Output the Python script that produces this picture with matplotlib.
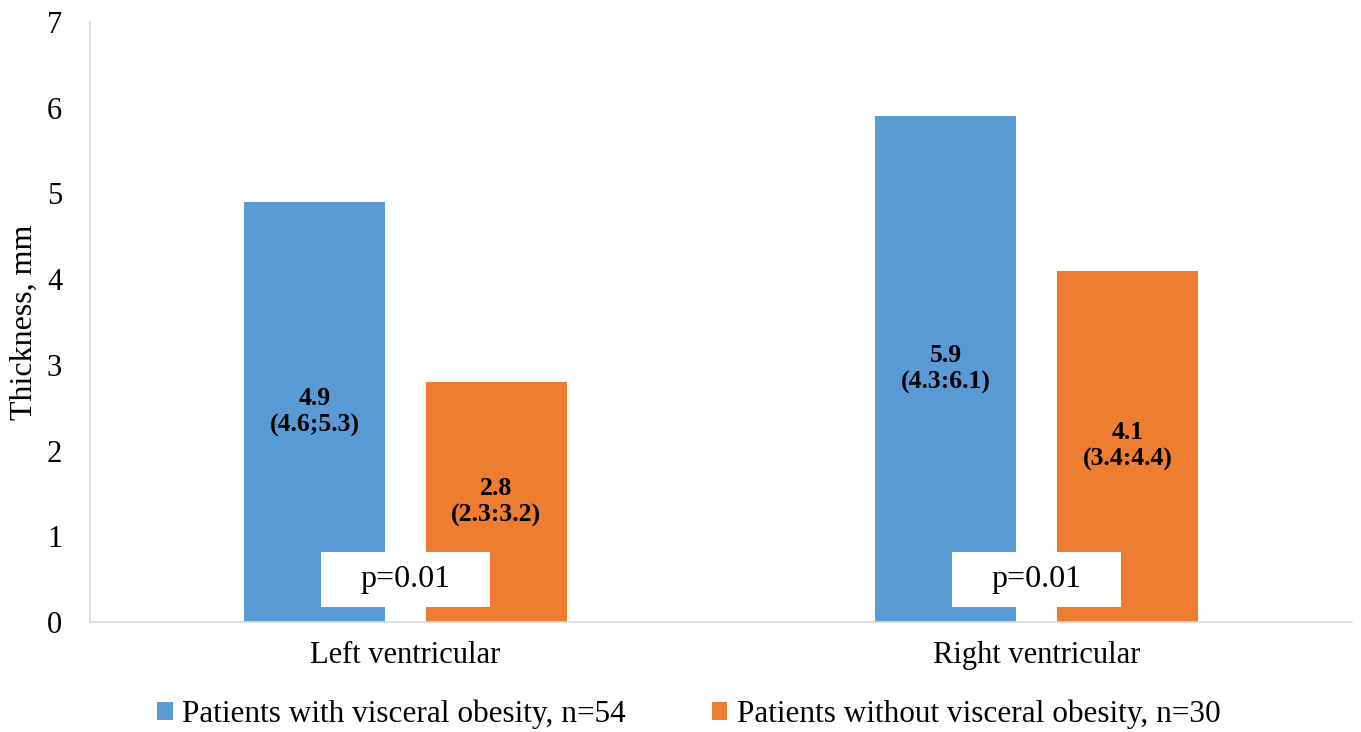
import matplotlib
matplotlib.use("Agg")
import matplotlib.pyplot as plt
import numpy as np

# --- dane ---
categories = ['Left ventricular', 'Right ventricular']
series_names = ['Patients with visceral obesity, n=54',
                'Patients without visceral obesity, n=30']
with_obesity = [4.9, 5.9]
without_obesity = [2.8, 4.1]
labels_with = ['4.9\n(4.6;5.3)', '5.9\n(4.3:6.1)']
labels_without = ['2.8\n(2.3:3.2)', '4.1\n(3.4:4.4)']
p_values = ['p=0.01', 'p=0.01']

# --- styl ---
BLUE = '#5B9BD5'
ORANGE = '#ED7D31'
SERIF = 'Liberation Serif'

fig = plt.figure(figsize=(13.61, 7.32), dpi=100)
ax = fig.add_axes([0.0661, 0.1503, 0.9273, 0.8197])

x = np.arange(len(categories))
w = 0.223
off = 0.144
b1 = ax.bar(x - off, with_obesity, w, color=BLUE, label=series_names[0], zorder=2)
b2 = ax.bar(x + off, without_obesity, w, color=ORANGE, label=series_names[1], zorder=2)

# etykiety w srodku slupkow
for bars, labels in [(b1, labels_with), (b2, labels_without)]:
    ax.bar_label(bars, labels=labels, label_type='center', fontsize=18.5,
                 fontweight='bold', family=SERIF, linespacing=1.2, zorder=3)

for i in range(len(categories)):
    # ramka z p
    ax.add_patch(plt.Rectangle((x[i] - 0.134, 0.175), 0.268, 0.645, facecolor='white',
                               edgecolor='none', zorder=3))
    ax.text(x[i], 0.5, p_values[i], ha='center', va='center', fontsize=23,
            family=SERIF, zorder=4)

ax.set_xlim(-0.5, 1.5)
ax.set_ylim(0, 7)
ax.set_yticks(range(0, 8))
ax.set_xticks(x)
ax.set_xticklabels(categories)
ax.tick_params(axis='both', length=0, labelsize=22)
ax.tick_params(axis='y', pad=20)
ax.tick_params(axis='x', pad=14)
for lab in ax.get_xticklabels() + ax.get_yticklabels():
    lab.set_family(SERIF)

for s in ['top', 'right']:
    ax.spines[s].set_visible(False)
for s in ['left', 'bottom']:
    ax.spines[s].set_color('#D9D9D9')
    ax.spines[s].set_linewidth(1.2)

ax.set_ylabel('Thickness, mm', fontsize=23, family=SERIF, labelpad=6)

fig.legend(handles=[b1, b2], loc='center', bbox_to_anchor=(0.506, 0.024), ncol=2,
           frameon=False, prop={'family': SERIF, 'size': 22.5}, handlelength=0.5,
           handleheight=0.5, handletextpad=0.3, columnspacing=2.75)

plt.savefig('out.png', dpi=100)
